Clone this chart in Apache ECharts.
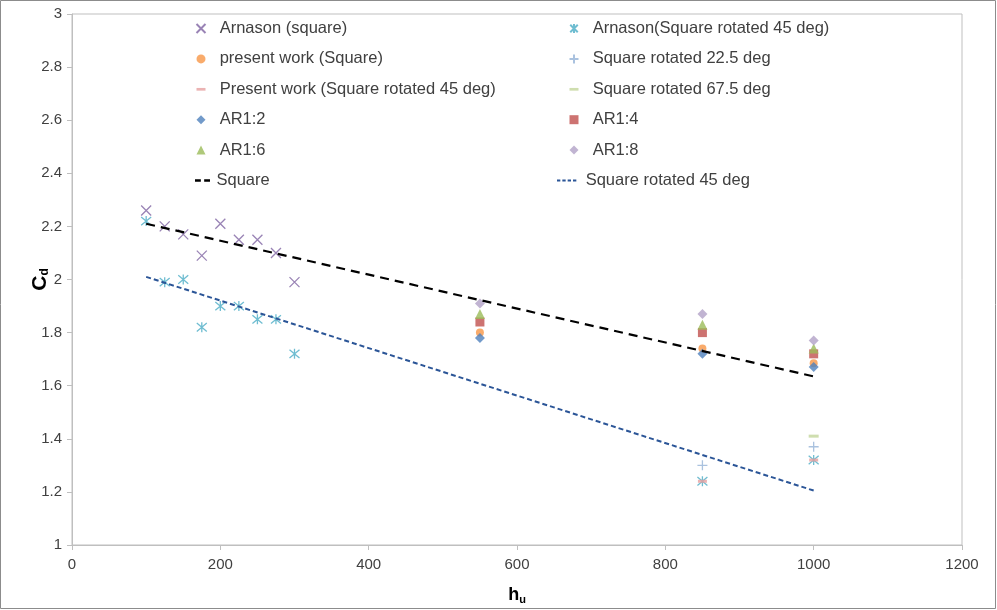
<!DOCTYPE html>
<html><head><meta charset="utf-8">
<script src="https://cdn.jsdelivr.net/npm/echarts@6/dist/echarts.min.js"></script>
<style>html,body{margin:0;padding:0;background:#fff}#c{width:997px;height:610px}</style>
</head><body><div id="c"></div><script>
// ---- data ----
const arnasonSquareX = [100,125,150,175,200,225,250,275,300];
const arnasonSquareY = [2.26,2.20,2.17,2.09,2.21,2.15,2.15,2.10,1.99];
const arnasonRotX = [100,125,150,175,200,225,250,275,300,850,1000];
const arnasonRotY = [2.22,1.99,2.00,1.82,1.90,1.90,1.85,1.85,1.72,1.24,1.32];
const presentSquareX = [550,850,1000];
const presentSquareY = [1.80,1.74,1.685];
const presentRotX = [850,1000];
const presentRotY = [1.24,1.32];
const rot225X = [850,1000];
const rot225Y = [1.30,1.37];
const rot675X = [1000];
const rot675Y = [1.41];
const arX = [550,850,1000];
const ar12Y = [1.78,1.72,1.67];
const ar14Y = [1.84,1.80,1.72];
const ar16Y = [1.87,1.83,1.74];
const ar18Y = [1.91,1.87,1.77];
const squareLineX = [100,1000];
const squareLineY = [2.21,1.635];
const rot45LineX = [100,1000];
const rot45LineY = [2.01,1.205];
const xTicks = [0,200,400,600,800,1000,1200];
const yTicks = [1,1.2,1.4,1.6,1.8,2,2.2,2.4,2.6,2.8,3];
const legendLeft = ['Arnason (square)','present work (Square)','Present work (Square rotated 45 deg)','AR1:2','AR1:6'];
const legendRight = ['Arnason(Square rotated 45 deg)','Square rotated 22.5 deg','Square rotated 67.5 deg','AR1:4','AR1:8'];

const zip = (xs, ys) => xs.map((x,i)=>[x, ys[i]]);
const FONT = 'Liberation Sans';
const TXT = '#404040';

const xPath = 'path://M0,0L10,10M10,0L0,10';
const starPath = 'path://M0,0L10,10M10,0L0,10M5,-1L5,11';
const plusPath = 'path://M5,0L5,10M0,5L10,5';
const dashIcon = 'path://M0,0H10V3H0Z';
const dashNames = ['Present work (Square rotated 45 deg)','Square rotated 67.5 deg'];

function strokeSym(name, xs, ys, path, color, size) {
  return {name, type:'scatter', data: zip(xs,ys), symbol: path, symbolSize: size,
    itemStyle:{color:'none', borderColor: color, borderWidth: 1.3}};
}
function fillSym(name, xs, ys, sym, color, size) {
  return {name, type:'scatter', data: zip(xs,ys), symbol: sym, symbolSize: size,
    itemStyle:{color: color}};
}

const series = [
  strokeSym('Arnason (square)', arnasonSquareX, arnasonSquareY, xPath, '#8064A2', 10),
  strokeSym('Arnason(Square rotated 45 deg)', arnasonRotX, arnasonRotY, starPath, '#4BACC6', 10),
  fillSym('present work (Square)', presentSquareX, presentSquareY, 'circle', '#F79646', 8),
  strokeSym('Square rotated 22.5 deg', rot225X, rot225Y, plusPath, '#95B3D7', 10),
  fillSym('Present work (Square rotated 45 deg)', presentRotX, presentRotY, 'rect', '#E6A0A0', [9,3]),
  fillSym('Square rotated 67.5 deg', rot675X, rot675Y, 'rect', '#C3D69B', [10,3]),
  fillSym('AR1:2', arX, ar12Y, 'diamond', '#4F81BD', 10),
  fillSym('AR1:4', arX, ar14Y, 'rect', '#C0504D', 9),
  fillSym('AR1:6', arX, ar16Y, 'triangle', '#9BBB59', 10),
  fillSym('AR1:8', arX, ar18Y, 'diamond', '#B2A1C7', 10),
  {name:'Square', type:'line', data: zip(squareLineX, squareLineY), symbol:'none',
    lineStyle:{color:'#000', width:2.2, type:[9,6]}, itemStyle:{color:'#000'}},
  {name:'Square rotated 45 deg', type:'line', data: zip(rot45LineX, rot45LineY), symbol:'none',
    lineStyle:{color:'#2B5597', width:2, type:[5,3]}, itemStyle:{color:'#2B5597'}}
];

const textStyle = {fontFamily:FONT, fontSize:16.5, color:TXT, lineHeight:16};
const scatterLegend = (left, names) => ({
  orient:'vertical', left, top:20, padding:0, itemWidth:9, itemHeight:9, itemGap:13.4,
  formatter: n => '  ' + n, textStyle,
  data: names.map(n => dashNames.includes(n) ? {name:n, icon:dashIcon} : n)
});

const chart = echarts.init(document.getElementById('c'), null, {renderer:'canvas'});
chart.setOption({
  animation:false,
  backgroundColor:'#fff',
  textStyle:{fontFamily:FONT},
  graphic:[{type:'rect', shape:{x:0.5,y:0.5,width:995,height:608}, style:{fill:'none', stroke:'#8c8c8c', lineWidth:1}, silent:true}],
  legend:[
    scatterLegend(194, legendLeft),
    scatterLegend(567, legendRight),
    {orient:'vertical', left:195, top:172, padding:0, itemWidth:18, itemHeight:2.5, textStyle,
      data:[{name:'Square', icon:'path://M0,0H7V3H0ZM11,0H18V3H11Z'}]},
    {orient:'vertical', left:557, top:172, padding:0, itemWidth:28, itemHeight:2, textStyle,
      data:[{name:'Square rotated 45 deg', icon:'path://M0,0H5V3H0ZM8,0H13V3H8ZM16,0H21V3H16ZM24,0H29V3H24Z'}]}
  ],
  grid:{left:72, right:35, top:14, bottom:61, show:true, borderColor:'#bfbfbf', borderWidth:1},
  xAxis:{type:'value', min:xTicks[0], max:xTicks[xTicks.length-1], interval:200,
    name:'{a|h}{b|u}', nameLocation:'middle', nameGap:41, nameMoveOverlap:false,
    nameTextStyle:{rich:{a:{fontSize:18,fontWeight:'bold',color:'#000',fontFamily:FONT}, b:{fontSize:11,fontWeight:'bold',color:'#000',fontFamily:FONT,padding:[8,0,0,0]}}},
    axisLine:{show:true, lineStyle:{color:'#bfbfbf'}}, axisTick:{show:true, length:5, lineStyle:{color:'#bfbfbf'}},
    splitLine:{show:false}, axisLabel:{fontFamily:FONT, fontSize:15, color:TXT, margin:12, formatter: v => String(v)}},
  yAxis:{type:'value', min:yTicks[0], max:yTicks[yTicks.length-1], interval:0.2,
    name:'{a|C}{b|d}', nameLocation:'middle', nameGap:21, nameRotate:90, nameMoveOverlap:false,
    nameTextStyle:{rich:{a:{fontSize:21,fontWeight:'bold',color:'#000',fontFamily:FONT}, b:{fontSize:12,fontWeight:'bold',color:'#000',fontFamily:FONT,padding:[8,0,0,0]}}},
    axisLine:{show:true, lineStyle:{color:'#bfbfbf'}}, axisTick:{show:true, length:5, lineStyle:{color:'#bfbfbf'}},
    splitLine:{show:false}, axisLabel:{fontFamily:FONT, fontSize:15, color:TXT, margin:10}},
  series
});
</script></body></html>
